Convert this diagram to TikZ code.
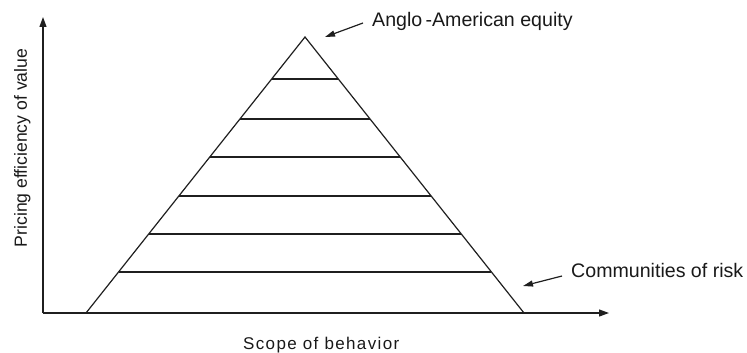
\documentclass[tikz,border=0pt]{standalone}
\usepackage{fontspec}
\setmainfont{Liberation Sans}
\newfontfamily\spacedfont[LetterSpace=8]{Liberation Sans}
\usetikzlibrary{arrows.meta,calc}
\begin{document}
\begin{tikzpicture}[x=1pt,y=-1pt,
  ln/.style={draw=black!88, line width=1.2pt},
  axarrow/.style={ln, -{Triangle[length=10pt,width=7pt]}},
  lblarrow/.style={ln, -{Triangle[length=10pt,width=6pt]}},
  lbl/.style={inner sep=0pt, font=\fontsize{19.6}{23}\selectfont, text=black!90}]
\useasboundingbox (0,0) rectangle (747,353);
% axes
\coordinate (O) at (43,313);
\coordinate (ytip) at (43,17);
\coordinate (xtip) at (609,313);
\draw[axarrow] (O) -- (ytip);
\draw[axarrow] (O) -- (xtip);
% pyramid
\coordinate (L) at (86,313);
\coordinate (A) at (305,37);
\coordinate (R) at (524,313);
\draw[ln, line join=miter] (L) -- (A) -- (R);
\foreach \t in {0.1486,0.2862,0.4239,0.5652,0.7029,0.8478}{
  \draw[ln] ($(L)!\t!(A)$) -- ($(R)!\t!(A)$);
}
% labels
\node[lbl, anchor=base west] (anglo) at (372,27) {Anglo\,-American equity};
\coordinate (angloS) at (363,23);
\coordinate (angloE) at (325,37);
\draw[lblarrow] (angloS) -- (angloE);
\node[lbl, anchor=base west] (comm) at (571,277) {Communities of risk};
\coordinate (commS) at (562,276);
\coordinate (commE) at (523,286);
\draw[lblarrow] (commS) -- (commE);
\node[lbl, anchor=base west, font=\spacedfont\fontsize{17}{20}\selectfont] (xlab) at (243,349) {Scope of behavior};
\node[lbl, anchor=base, rotate=90, font=\fontsize{17.6}{21}\selectfont] (ylab) at (27,148) {Pricing efficiency of value};
\end{tikzpicture}
\end{document}
